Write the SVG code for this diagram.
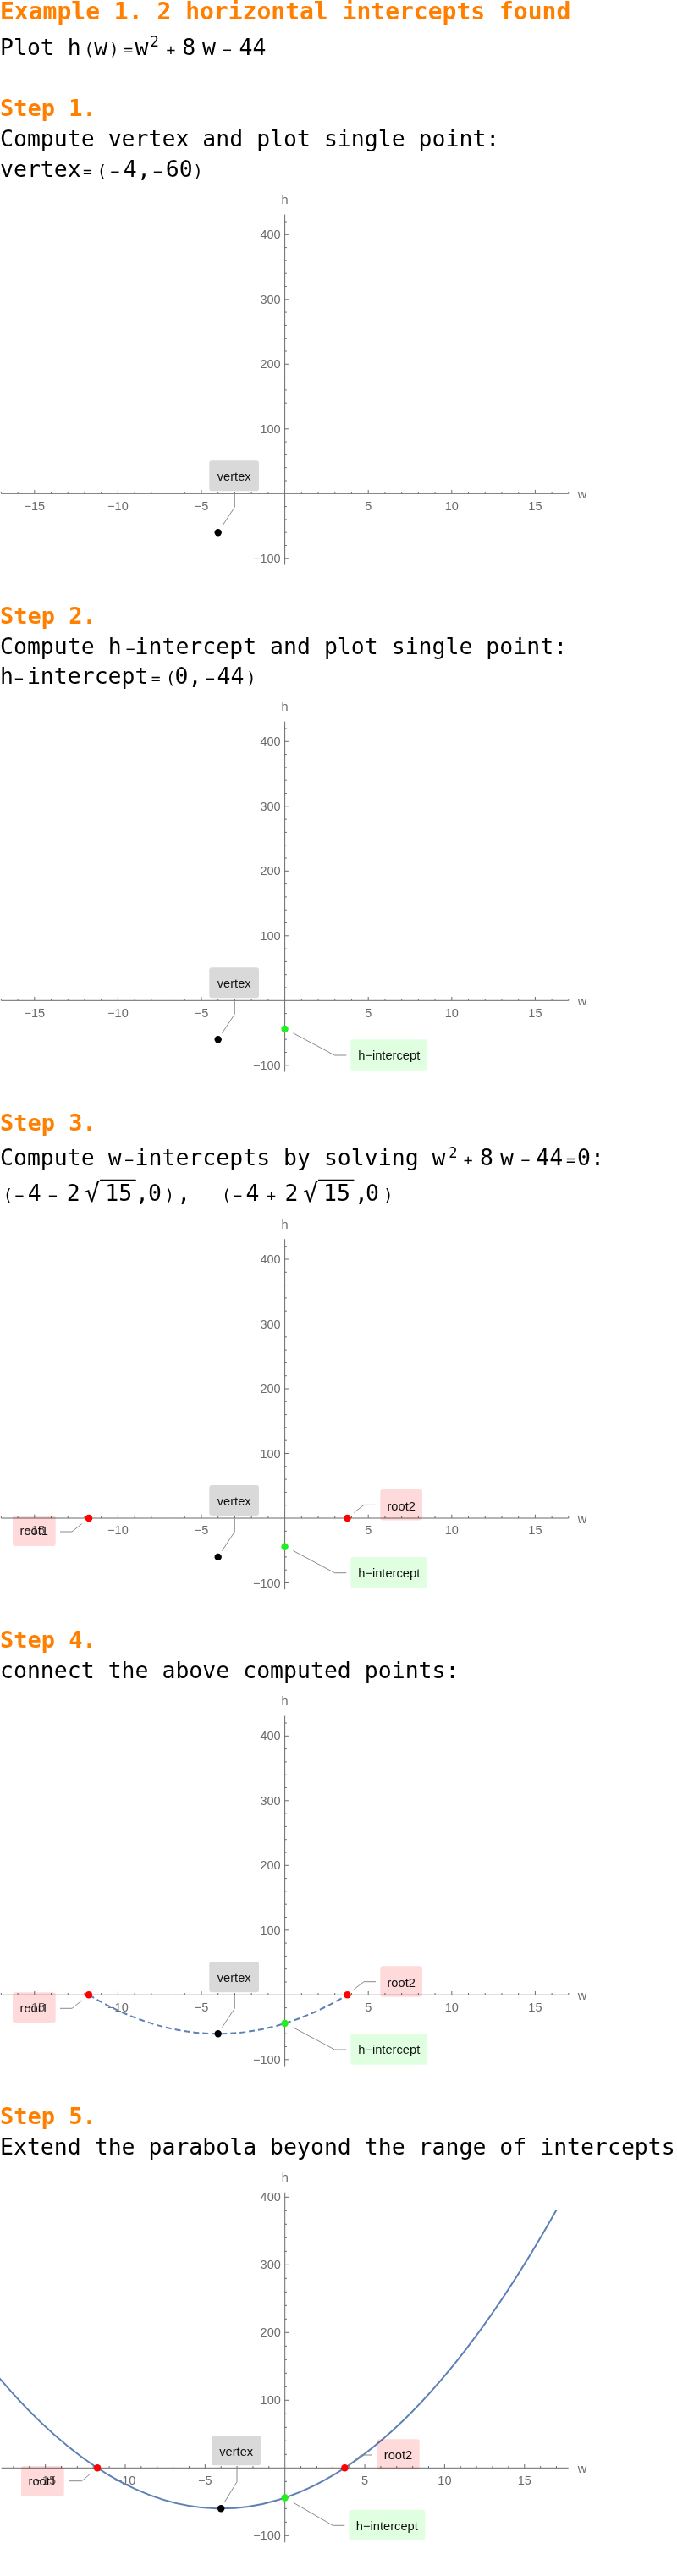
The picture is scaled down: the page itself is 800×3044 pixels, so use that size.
<svg xmlns="http://www.w3.org/2000/svg" xmlns:xlink="http://www.w3.org/1999/xlink" width="800" height="3044" viewBox="0 0 800 3044">
<style>
.t{font-family:"DejaVu Sans Mono",monospace;font-size:26.5px;fill:#000}
.hd{font-family:"DejaVu Sans Mono",monospace;font-weight:bold;font-size:27px;fill:#ff7f00}
.op{font-size:18px}
.pa{font-size:19px}
.sup{font-size:17px}
.ax{stroke:#6b6b6b;stroke-width:1;fill:none}
.tl{font-family:"Liberation Sans",Arial,sans-serif;font-size:14.5px;fill:#6b6b6b}
.tx{text-anchor:middle}
.ty{text-anchor:end}
.lb{font-family:"Liberation Sans",Arial,sans-serif;font-size:14.7px;fill:#111;text-anchor:middle}
.lead{stroke:#8a8a8a;stroke-width:1;fill:none}
.box{mix-blend-mode:multiply}
.bv{fill:#d9d9d9}
.br{fill:#ffdada}
.bg{fill:#e0ffe0}
.curve{stroke:#5e81b5;stroke-width:2;fill:none}
.dash{stroke-dasharray:7 4}
.pv{fill:#000}
.pr{fill:#ff0000}
.pg{fill:#22ee22}
</style>
<defs>
<g id="axesA">
<path class="ax" d="M1.36,0H671.84M336.6,-329.7V84.2"/>
<path class="ax" d="M1.36,0v-2.3M21.08,0v-2.3M60.52,0v-2.3M80.24,0v-2.3M99.96,0v-2.3M119.68,0v-2.3M159.12,0v-2.3M178.84,0v-2.3M198.56,0v-2.3M218.28,0v-2.3M257.72,0v-2.3M277.44,0v-2.3M297.16,0v-2.3M316.88,0v-2.3M356.32,0v-2.3M376.04,0v-2.3M395.76,0v-2.3M415.48,0v-2.3M454.92,0v-2.3M474.64,0v-2.3M494.36,0v-2.3M514.08,0v-2.3M553.52,0v-2.3M573.24,0v-2.3M592.96,0v-2.3M612.68,0v-2.3M652.12,0v-2.3M671.84,0v-2.3M40.8,0v-4.3M139.4,0v-4.3M238,0v-4.3M435.2,0v-4.3M533.8,0v-4.3M632.4,0v-4.3"/>
<path class="ax" d="M336.6,61.2h2.3M336.6,45.9h2.3M336.6,30.6h2.3M336.6,15.3h2.3M336.6,-15.3h2.3M336.6,-30.6h2.3M336.6,-45.9h2.3M336.6,-61.2h2.3M336.6,-91.8h2.3M336.6,-107.1h2.3M336.6,-122.4h2.3M336.6,-137.7h2.3M336.6,-168.3h2.3M336.6,-183.6h2.3M336.6,-198.9h2.3M336.6,-214.2h2.3M336.6,-244.8h2.3M336.6,-260.1h2.3M336.6,-275.4h2.3M336.6,-290.7h2.3M336.6,-321.3h2.3M336.6,76.5h4.3M336.6,-76.5h4.3M336.6,-153h4.3M336.6,-229.5h4.3M336.6,-306h4.3"/>
<g class="tl">
<text class="tx" x="40.8" y="19.4">−15</text>
<text class="tx" x="139.4" y="19.4">−10</text>
<text class="tx" x="238" y="19.4">−5</text>
<text class="tx" x="435.2" y="19.4">5</text>
<text class="tx" x="533.8" y="19.4">10</text>
<text class="tx" x="632.4" y="19.4">15</text>
<text class="ty" x="331.7" y="-301">400</text>
<text class="ty" x="331.7" y="-224.5">300</text>
<text class="ty" x="331.7" y="-148">200</text>
<text class="ty" x="331.7" y="-71.5">100</text>
<text class="ty" x="331.7" y="81.5">−100</text>
<text class="tx" x="336.6" y="-342">h</text>
<text class="tx" x="688" y="6">w</text>
</g>
</g>
<g id="axesB">
<path class="ax" d="M1.7,0H671.7M336.7,-325.6V88"/>
<path class="ax" d="M15.91,0v-2.3M34.78,0v-2.3M72.52,0v-2.3M91.39,0v-2.3M110.26,0v-2.3M129.13,0v-2.3M166.87,0v-2.3M185.74,0v-2.3M204.61,0v-2.3M223.48,0v-2.3M261.22,0v-2.3M280.09,0v-2.3M298.96,0v-2.3M317.83,0v-2.3M355.57,0v-2.3M374.44,0v-2.3M393.31,0v-2.3M412.18,0v-2.3M449.92,0v-2.3M468.79,0v-2.3M487.66,0v-2.3M506.53,0v-2.3M544.27,0v-2.3M563.14,0v-2.3M582.01,0v-2.3M600.88,0v-2.3M638.62,0v-2.3M657.49,0v-2.3M53.65,0v-4.3M148,0v-4.3M242.35,0v-4.3M431.05,0v-4.3M525.4,0v-4.3M619.75,0v-4.3"/>
<path class="ax" d="M336.7,64h2.3M336.7,48h2.3M336.7,32h2.3M336.7,16h2.3M336.7,-16h2.3M336.7,-32h2.3M336.7,-48h2.3M336.7,-64h2.3M336.7,-96h2.3M336.7,-112h2.3M336.7,-128h2.3M336.7,-144h2.3M336.7,-176h2.3M336.7,-192h2.3M336.7,-208h2.3M336.7,-224h2.3M336.7,-256h2.3M336.7,-272h2.3M336.7,-288h2.3M336.7,-304h2.3M336.7,80h4.3M336.7,-80h4.3M336.7,-160h4.3M336.7,-240h4.3M336.7,-320h4.3"/>
<g class="tl">
<text class="tx" x="53.65" y="19.4">−15</text>
<text class="tx" x="148" y="19.4">−10</text>
<text class="tx" x="242.35" y="19.4">−5</text>
<text class="tx" x="431.05" y="19.4">5</text>
<text class="tx" x="525.4" y="19.4">10</text>
<text class="tx" x="619.75" y="19.4">15</text>
<text class="ty" x="331.8" y="-315">400</text>
<text class="ty" x="331.8" y="-235">300</text>
<text class="ty" x="331.8" y="-155">200</text>
<text class="ty" x="331.8" y="-75">100</text>
<text class="ty" x="331.8" y="85">−100</text>
<text class="tx" x="336.7" y="-338.3">h</text>
<text class="tx" x="688" y="6">w</text>
</g>
</g>
</defs>
<rect x="0" y="0" width="800" height="3044" fill="#fff"/>

<g id="header">
<text class="hd" style="font-size:28px" x="0" y="22.7">Example 1. 2 horizontal intercepts found</text>
<text class="t" y="65"><tspan x="0">Plot h</tspan><tspan class="pa" x="99.6">(</tspan><tspan x="111.3">w</tspan><tspan class="pa" x="129">)</tspan><tspan class="op" x="146.3">=</tspan><tspan x="159.5">w</tspan><tspan class="sup" x="177.5" y="55">2</tspan><tspan class="op" x="196.6" y="65">+</tspan><tspan x="215.3">8</tspan><tspan x="238.9">w</tspan><tspan class="op" x="263.1">−</tspan><tspan x="282.5">44</tspan></text>
</g>

<g id="step1-text">
<text class="hd" x="0" y="136.7">Step 1.</text>
<text class="t" x="0" y="173.3">Compute vertex and plot single point:</text>
<text class="t" y="209.3"><tspan x="0">vertex</tspan><tspan class="op" x="98">=</tspan><tspan class="pa" x="114.8">(</tspan><tspan class="op" x="130.5">−</tspan><tspan x="145.7">4</tspan><tspan x="162">,</tspan><tspan class="op" x="181">−</tspan><tspan x="195.8">60</tspan><tspan class="pa" x="228.2">)</tspan></text>
</g>

<g id="step1-plot" transform="translate(0,583.3)">
<use xlink:href="#axesA" href="#axesA"/>
<g id="s1-vertex"><rect class="box bv" x="247.3" y="-39" width="58.7" height="36" rx="3"/><text class="lb" x="276.7" y="-15">vertex</text><circle class="pv" cx="257.7" cy="45.9" r="4.2"/></g>
<g id="s1-connectors"><path class="lead" d="M277.3,0.5V16L262.5,38.5"/></g>
</g>

<g id="step2-text">
<text class="hd" x="0" y="736.7">Step 2.</text>
<text class="t" y="772.7"><tspan x="0">Compute h</tspan><tspan class="op" x="148.8">−</tspan><tspan x="159.55">intercept and plot single point:</tspan></text>
<text class="t" y="808.3"><tspan x="0">h</tspan><tspan class="op" x="17.1">−</tspan><tspan x="31.9">intercept</tspan><tspan class="op" x="178.8">=</tspan><tspan class="pa" x="196">(</tspan><tspan x="206.5">0</tspan><tspan x="222.5">,</tspan><tspan class="op" x="242.9">−</tspan><tspan x="256.5">44</tspan><tspan class="pa" x="291">)</tspan></text>
</g>

<g id="step2-plot" transform="translate(0,1182.3)">
<use xlink:href="#axesA" href="#axesA"/>
<g id="s2-vertex"><rect class="box bv" x="247.3" y="-39" width="58.7" height="36" rx="3"/><text class="lb" x="276.7" y="-15">vertex</text><circle class="pv" cx="257.7" cy="45.9" r="4.2"/></g>
<g id="s2-hintercept"><rect class="box bg" x="414.3" y="46" width="90.7" height="36.5" rx="3"/><text class="lb" x="459.7" y="69.5">h−intercept</text><circle class="pg" cx="336.6" cy="33.7" r="4.2"/></g>
<g id="s2-connectors"><path class="lead" d="M277.3,0.5V16L262.5,38.5"/><path class="lead" d="M346.5,38.5L395.5,64.7H409.3"/></g>
</g>

<g id="step3-text">
<text class="hd" x="0" y="1335.7">Step 3.</text>
<text class="t" y="1377"><tspan x="0">Compute w</tspan><tspan class="op" x="147.2">−</tspan><tspan x="159.55">intercepts by solving</tspan><tspan x="510.6">w</tspan><tspan class="sup" x="530.2" y="1367.5">2</tspan><tspan class="op" x="547.7" y="1377">+</tspan><tspan x="567">8</tspan><tspan x="591">w</tspan><tspan class="op" x="615.5">−</tspan><tspan x="633.3">44</tspan><tspan class="op" x="669.1">=</tspan><tspan x="682">0</tspan><tspan x="698">:</tspan></text>
<text class="t" y="1419"><tspan class="pa" x="3.7">(</tspan><tspan class="op" x="17.6">−</tspan><tspan x="32.8">4</tspan><tspan class="op" x="57.1">−</tspan><tspan x="78.7">2</tspan><tspan style="font-size:30px" x="100" y="1420">√</tspan><tspan x="124.35" y="1419">15</tspan><tspan x="160">,</tspan><tspan x="175">0</tspan><tspan class="pa" x="194.5">)</tspan><tspan x="209.2">,</tspan><tspan class="pa" x="261.9">(</tspan><tspan class="op" x="275.2">−</tspan><tspan x="290.4">4</tspan><tspan class="op" x="315.35">+</tspan><tspan x="336.4">2</tspan><tspan style="font-size:30px" x="358" y="1420">√</tspan><tspan x="382" y="1419">15</tspan><tspan x="419">,</tspan><tspan x="432">0</tspan><tspan class="pa" x="453">)</tspan></text>
<path d="M118,1394.5H160.7M376,1394.5H418.4" stroke="#000" stroke-width="1.3" fill="none"/>
</g>

<g id="step3-plot" transform="translate(0,1794)">
<use xlink:href="#axesA" href="#axesA"/>
<g id="s3-vertex"><rect class="box bv" x="247.3" y="-39" width="58.7" height="36" rx="3"/><text class="lb" x="276.7" y="-15">vertex</text><circle class="pv" cx="257.7" cy="45.9" r="4.2"/></g>
<g id="s3-hintercept"><rect class="box bg" x="414.3" y="46" width="90.7" height="36.5" rx="3"/><text class="lb" x="459.7" y="69.5">h−intercept</text><circle class="pg" cx="336.6" cy="33.7" r="4.2"/></g>
<g id="s3-root1"><rect class="box br" x="15" y="-3" width="50.7" height="36" rx="3"/><text class="lb" x="40.3" y="20.3">root1</text><circle class="pr" cx="104.97" cy="0" r="4.3"/></g>
<g id="s3-root2"><rect class="box br" x="449.3" y="-34" width="49.7" height="36.5" rx="3"/><text class="lb" x="474.2" y="-9.5">root2</text><circle class="pr" cx="410.47" cy="0" r="4.3"/></g>
<g id="s3-connectors"><path class="lead" d="M277.3,0.5V16L262.5,38.5"/><path class="lead" d="M346.5,38.5L395.5,64.7H409.3"/><path class="lead" d="M96.7,6.7L85,16H71"/><path class="lead" d="M418.3,-6.6L430,-15.6H444"/></g>
</g>

<g id="step4-text">
<text class="hd" x="0" y="1947.4">Step 4.</text>
<text class="t" x="0" y="1983.4">connect the above computed points:</text>
</g>

<g id="step4-plot" transform="translate(0,2357.3)">
<use xlink:href="#axesA" href="#axesA"/>
<path id="s4-curve" class="curve dash" d="M104.97,0Q257.72,91.8 410.47,0"/>
<g id="s4-vertex"><rect class="box bv" x="247.3" y="-39" width="58.7" height="36" rx="3"/><text class="lb" x="276.7" y="-15">vertex</text><circle class="pv" cx="257.7" cy="45.9" r="4.2"/></g>
<g id="s4-hintercept"><rect class="box bg" x="414.3" y="46" width="90.7" height="36.5" rx="3"/><text class="lb" x="459.7" y="69.5">h−intercept</text><circle class="pg" cx="336.6" cy="33.7" r="4.2"/></g>
<g id="s4-root1"><rect class="box br" x="15" y="-3" width="50.7" height="36" rx="3"/><text class="lb" x="40.3" y="20.3">root1</text><circle class="pr" cx="104.97" cy="0" r="4.3"/></g>
<g id="s4-root2"><rect class="box br" x="449.3" y="-34" width="49.7" height="36.5" rx="3"/><text class="lb" x="474.2" y="-9.5">root2</text><circle class="pr" cx="410.47" cy="0" r="4.3"/></g>
<g id="s4-connectors"><path class="lead" d="M277.3,0.5V16L262.5,38.5"/><path class="lead" d="M346.5,38.5L395.5,64.7H409.3"/><path class="lead" d="M96.7,6.7L85,16H71"/><path class="lead" d="M418.3,-6.6L430,-15.6H444"/></g>
</g>

<g id="step5-text">
<text class="hd" x="0" y="2510.4">Step 5.</text>
<text class="t" x="0" y="2546.2">Extend the parabola beyond the range of intercepts</text>
</g>

<g id="step5-plot" transform="translate(0,2916.3)">
<use xlink:href="#axesB" href="#axesB"/>
<path id="s5-curve" class="curve" d="M-1.07,-106.57Q328.21,281.52 657.49,-304.8"/>
<g id="s5-vertex"><rect class="box bv" x="250" y="-38" width="58.3" height="35" rx="3"/><text class="lb" x="279.2" y="-14.6">vertex</text><circle class="pv" cx="261.2" cy="48" r="4.2"/></g>
<g id="s5-hintercept"><rect class="box bg" x="412.3" y="49.4" width="90" height="36" rx="3"/><text class="lb" x="457.3" y="73.7">h−intercept</text><circle class="pg" cx="336.7" cy="35.2" r="4.2"/></g>
<g id="s5-root1"><rect class="box br" x="25" y="-2.3" width="50.7" height="36" rx="3"/><text class="lb" x="50.3" y="20.4">root1</text><circle class="pr" cx="115.05" cy="0" r="4.3"/></g>
<g id="s5-root2"><rect class="box br" x="445.3" y="-34" width="50.4" height="36" rx="3"/><text class="lb" x="470.5" y="-10.3">root2</text><circle class="pr" cx="407.4" cy="0" r="4.3"/></g>
<g id="s5-connectors"><path class="lead" d="M280,0.5V16.4L265,41"/><path class="lead" d="M346.7,41L393.3,68H407.3"/><path class="lead" d="M106.7,7L96.7,15.4H81"/><path class="lead" d="M413.3,-4.6L426.7,-15.3H440"/></g>
</g>
</svg>
